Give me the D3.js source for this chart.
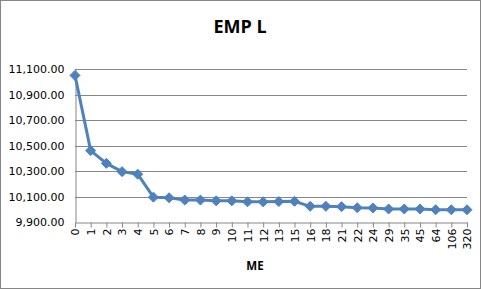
<!DOCTYPE html>
<html lang="en">
<head>
  <meta charset="UTF-8" />
  <title>EMP L</title>
  <style>
    html, body { margin:0; padding:0; background:#fff; }
    svg { display:block; font-family:"Open Sans", "Liberation Sans", sans-serif; }
    .tick text { font-family:"DejaVu Sans", sans-serif; }
  </style>
</head>
<body>
  <svg id="chart" width="481" height="289"></svg>
  <script src="https://d3js.org/d3.v7.min.js"></script>
  <script>
    // Data
    const categories = ["0","1","2","3","4","5","6","7","8","9","10","11","12","13","15","16","18","21","22","24","29","35","45","64","106","320"];
    const values = [11050, 10460, 10360, 10295, 10275, 10095, 10090, 10072, 10072, 10066, 10066, 10058, 10058, 10060, 10062, 10023, 10023, 10020, 10012, 10010, 10002, 10002, 10002, 9996, 9996, 9996];
    const yTicks = [9900, 10100, 10300, 10500, 10700, 10900, 11100];

    const W = 481, H = 289;
    const plot = { left: 75, right: 467, top: 69, bottom: 222 };
    const svg = d3.select('#chart');

    // outer border
    svg.append('rect').attr('x', 0.5).attr('y', 0.5).attr('width', W - 1).attr('height', H - 1)
      .attr('fill', '#fff').attr('stroke', '#868686');

    const x = d3.scalePoint().domain(categories).range([plot.left, plot.right]);
    const y = d3.scaleLinear().domain([9900, 11100]).range([plot.bottom, plot.top]);
    const fmt = d3.format(',.2f');

    // gridlines
    svg.append('g').selectAll('line').data(yTicks.slice(1)).join('line')
      .attr('x1', plot.left).attr('x2', plot.right)
      .attr('y1', d => Math.round(y(d)) + 0.5).attr('y2', d => Math.round(y(d)) + 0.5)
      .attr('stroke', '#868686').attr('stroke-width', 1);

    // y axis
    const yAxis = svg.append('g').attr('transform', `translate(${plot.left + 0.5},0)`)
      .call(d3.axisLeft(y).tickValues(yTicks).tickFormat(fmt).tickSize(0).tickPadding(11));
    yAxis.select('.domain').attr('stroke', '#868686');
    yAxis.selectAll('text').attr('font-size', 11).attr('fill', '#000');

    // x axis
    const xAxis = svg.append('g').attr('transform', `translate(0,${plot.bottom + 0.5})`)
      .call(d3.axisBottom(x).tickSize(5).tickSizeOuter(0));
    xAxis.select('.domain').attr('stroke', '#868686');
    xAxis.selectAll('.tick line').attr('stroke', '#868686');
    xAxis.selectAll('text')
      .attr('font-size', 11).attr('fill', '#000')
      .attr('transform', 'rotate(-90)')
      .attr('text-anchor', 'end')
      .attr('x', -6).attr('y', 0).attr('dy', '0.35em');

    // line
    const pts = categories.map((c, i) => ({ c, v: values[i] }));
    svg.append('path').datum(pts)
      .attr('fill', 'none').attr('stroke', '#4F81BD').attr('stroke-width', 3).attr('stroke-linejoin', 'round')
      .attr('d', d3.line().x(d => x(d.c)).y(d => y(d.v)));

    // diamond markers
    svg.append('g').selectAll('path').data(pts).join('path')
      .attr('transform', d => `translate(${x(d.c)},${y(d.v)})`)
      .attr('d', 'M0,-5L5,0L0,5L-5,0Z')
      .attr('fill', '#4F81BD').attr('stroke', '#4F81BD').attr('stroke-width', 1);

    // titles
    svg.append('text').attr('x', 240).attr('y', 33).attr('text-anchor', 'middle')
      .attr('font-size', 18).attr('font-weight', 'bold').text('EMP L');
    svg.append('text').attr('x', 255).attr('y', 270).attr('text-anchor', 'middle')
      .attr('font-size', 11.5).attr('font-weight', 'bold').text('ME');
  </script>
</body>
</html>
